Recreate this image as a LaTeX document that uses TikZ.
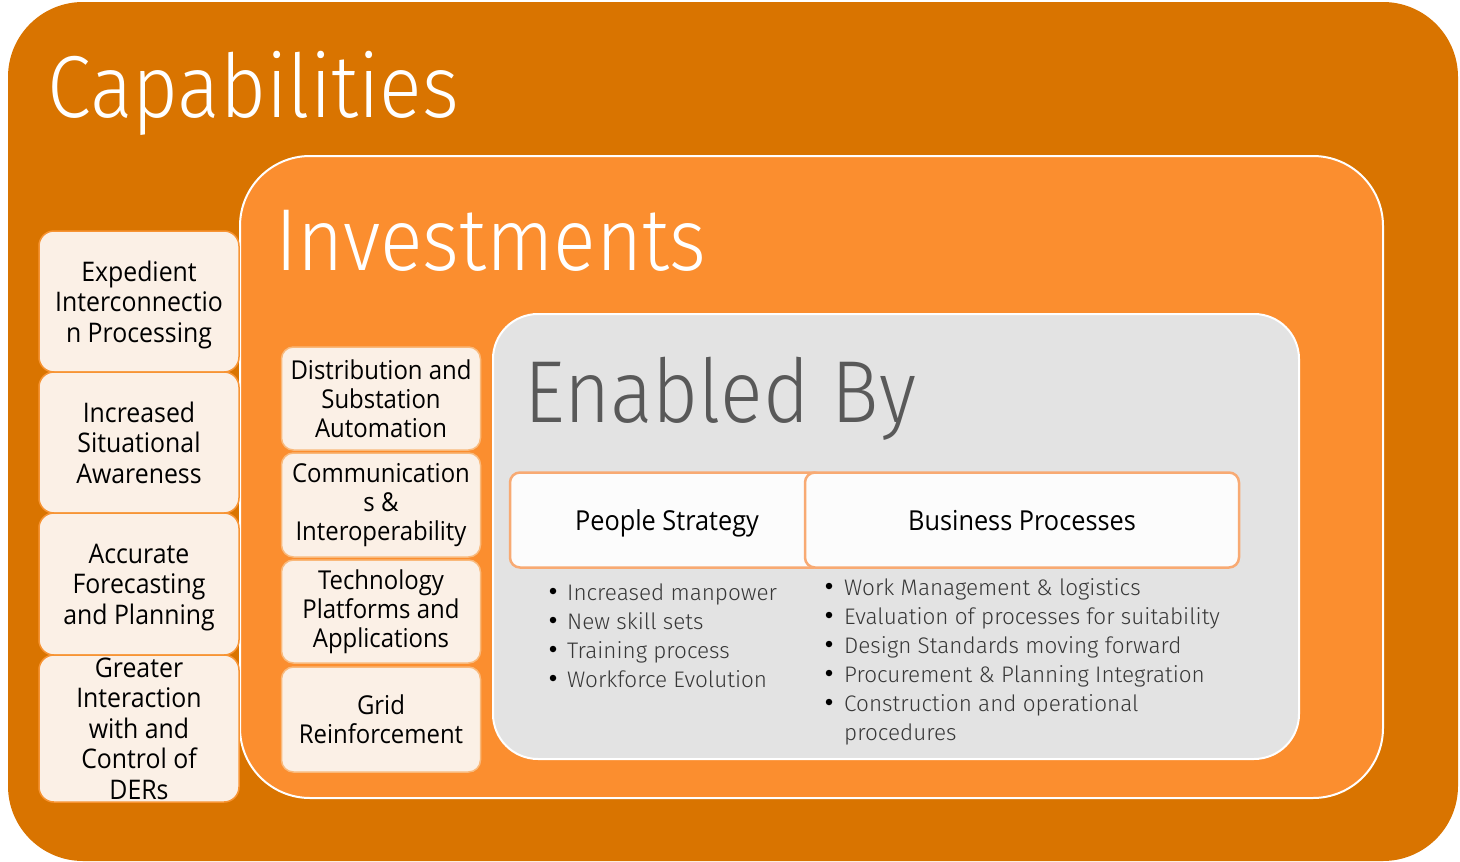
\documentclass[tikz,border=0pt]{standalone}
\usepackage{fontspec}
\setmainfont{Open Sans}[FakeStretch=0.92]
\newfontfamily\lightfont{Fira Sans Light}
\newfontfamily\titlefont{Fira Sans Light}[FakeStretch=0.9]
\definecolor{capfill}{RGB}{217,116,0}
\definecolor{invfill}{RGB}{251,142,47}
\definecolor{enfill}{RGB}{227,227,227}
\definecolor{cream}{RGB}{251,240,230}
\definecolor{boxline}{RGB}{247,148,52}
\definecolor{tabline}{RGB}{248,170,115}
\definecolor{tabfill}{RGB}{252,252,252}
\definecolor{greytitle}{RGB}{89,89,89}
\definecolor{listtext}{RGB}{55,55,55}
\begin{document}
\begin{tikzpicture}[x=1pt,y=-1pt,
  title/.style={anchor=base west, inner sep=0pt, font=\titlefont\fontsize{88}{88}\selectfont},
  capbox/.style={draw=boxline, line width=1.5pt, fill=cream, rounded corners=15pt,
    minimum width=200pt, inner sep=0pt, align=center, text depth=0pt,
    font=\fontsize{27}{30.5}\selectfont},
  invbox/.style={draw=boxline!60!cream, line width=1.5pt, fill=cream, rounded corners=12pt,
    minimum width=199pt, inner sep=0pt, align=center,
    font=\fontsize{26}{29}\selectfont},
  tabbox/.style={draw=tabline, line width=2.5pt, fill=tabfill, rounded corners=10pt,
    minimum height=95pt, inner sep=0pt, text depth=0pt, font=\fontsize{27.5}{30}\selectfont},
  item/.style={anchor=base west, inner sep=0pt, text=listtext,
    font=\lightfont\fontsize{22.5}{29}\selectfont},
  dot/.style={circle, fill=black, inner sep=0pt, minimum size=6.5pt}
]
\useasboundingbox (0,0) rectangle (1460,862);

% nested containers
\fill[capfill, rounded corners=75pt] (8,2) rectangle (1458,861);
\draw[white, line width=2pt, fill=invfill, rounded corners=70pt] (240,156) rectangle (1383,798);
\draw[white, line width=2pt, fill=enfill, rounded corners=45pt] (493,314) rectangle (1299,759);

% titles
\node[title, text=white] (tcap) at (47,117) {Capabilities};
\node[title, text=white] (tinv) at (275,270) {Investments};
\node[title, text=greytitle] (ten) at (524,422) {Enabled By};

% capabilities column
\node[capbox, minimum height=141pt] (cap1) at (139,301.5) {Expedient\\Interconnectio\\n Processing};
\node[capbox, minimum height=141pt] (cap2) at (139,442.5) {Increased\\Situational\\Awareness};
\node[capbox, minimum height=142pt] (cap3) at (139,584) {Accurate\\Forecasting\\and Planning};
\node[capbox, minimum height=147pt] (cap4) at (139,728.5) {Greater\\Interaction\\with and\\Control of\\DERs};

% investments column
\node[invbox, minimum height=103pt] (inv1) at (381,398.5) {Distribution and\\Substation\\Automation};
\node[invbox, minimum height=104pt] (inv2) at (381,505) {Communication\\s \&\\Interoperability};
\node[invbox, minimum height=103pt] (inv3) at (381,611.5) {Technology\\Platforms and\\Applications};
\node[invbox, minimum height=105pt] (inv4) at (381,719.5) {Grid\\Reinforcement};

% enablers
\node[tabbox, minimum width=314pt] (people) at (667,520) {People Strategy};
\node[tabbox, minimum width=434pt] (business) at (1022,520) {Business Processes};

% people strategy list
\node[dot] (pd1) at (553,591) {};
\node[dot] (pd2) at (553,620) {};
\node[dot] (pd3) at (553,649) {};
\node[dot] (pd4) at (553,678) {};
\node[item] (p1) at (567,600) {Increased manpower};
\node[item] (p2) at (567,629) {New skill sets};
\node[item] (p3) at (567,658) {Training process};
\node[item] (p4) at (567,687) {Workforce Evolution};

% business processes list
\node[dot] (bd1) at (829,586) {};
\node[dot] (bd2) at (829,615) {};
\node[dot] (bd3) at (829,644) {};
\node[dot] (bd4) at (829,673) {};
\node[dot] (bd5) at (829,702) {};
\node[item] (b1) at (844,595) {Work Management \& logistics};
\node[item] (b2) at (844,624) {Evaluation of processes for suitability};
\node[item] (b3) at (844,653) {Design Standards moving forward};
\node[item] (b4) at (844,682) {Procurement \& Planning Integration};
\node[item] (b5) at (844,711) {Construction and operational};
\node[item] (b6) at (844,740) {procedures};
\end{tikzpicture}
\end{document}
